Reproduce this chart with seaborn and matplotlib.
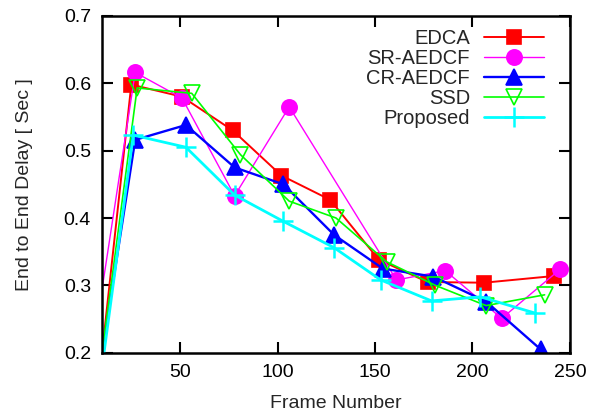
import numpy as np
import pandas as pd
import seaborn as sns
import matplotlib
matplotlib.use("Agg")
import matplotlib.pyplot as plt

series_names = ["EDCA", "SR-AEDCF", "CR-AEDCF", "SSD", "Proposed"]

edca_x = [10, 25, 51, 77, 102, 127, 152, 177, 206, 242]
edca_y = [0.20, 0.598, 0.580, 0.530, 0.463, 0.427, 0.338, 0.305, 0.304, 0.314]

sr_x = [5, 27, 51, 78, 106, 161, 186, 215, 245]
sr_y = [0.20, 0.616, 0.578, 0.433, 0.565, 0.308, 0.322, 0.251, 0.324]

cr_x = [10, 27, 53, 78, 103, 129, 154, 180, 207, 235]
cr_y = [0.20, 0.516, 0.538, 0.475, 0.450, 0.375, 0.325, 0.313, 0.276, 0.205]

ssd_x = [10, 28, 56, 81, 106, 130, 156, 181, 207, 237]
ssd_y = [0.20, 0.593, 0.585, 0.494, 0.425, 0.400, 0.335, 0.300, 0.270, 0.286]

prop_x = [11, 26, 53, 78, 103, 129, 153, 179, 204, 232]
prop_y = [0.20, 0.523, 0.505, 0.434, 0.395, 0.356, 0.308, 0.277, 0.283, 0.259]

xs = [edca_x, sr_x, cr_x, ssd_x, prop_x]
ys = [edca_y, sr_y, cr_y, ssd_y, prop_y]

frames = []
for name, x, y in zip(series_names, xs, ys):
    frames.append(pd.DataFrame({"frame": x, "delay": y, "method": name}))
df = pd.concat(frames, ignore_index=True)

colors = {"EDCA": "#ff0000", "SR-AEDCF": "#ff00ff", "CR-AEDCF": "#0000ff",
          "SSD": "#00ff00", "Proposed": "#00ffff"}
markers = {"EDCA": "s", "SR-AEDCF": "o", "CR-AEDCF": "^", "SSD": "v", "Proposed": "+"}
lws = {"EDCA": 1.4, "SR-AEDCF": 1.0, "CR-AEDCF": 1.7, "SSD": 1.2, "Proposed": 2.0}
msizes = {"EDCA": 10.5, "SR-AEDCF": 11, "CR-AEDCF": 12, "SSD": 12, "Proposed": 14}

sns.set_theme(style="ticks")
plt.rcParams['font.family'] = ['Liberation Sans', 'DejaVu Sans']

fig = plt.figure(figsize=(5.9, 4.17), dpi=100)
ax = fig.add_axes([0.173, 0.154, 0.793, 0.808])

for name in series_names:
    sub = df[df["method"] == name]
    mfc = "none" if name == "SSD" else colors[name]
    sns.lineplot(data=sub, x="frame", y="delay", ax=ax, color=colors[name],
                 marker=markers[name], markersize=msizes[name], lw=lws[name],
                 markerfacecolor=mfc, markeredgecolor=colors[name],
                 markeredgewidth=1.2 if name != "Proposed" else 1.8,
                 markevery=list(range(1, len(sub))),
                 sort=False, estimator=None, label=name)

ax.set_xlim(10, 250)
ax.set_ylim(0.2, 0.7)
ax.set_xticks([50, 100, 150, 200, 250])
ax.set_yticks([0.2, 0.3, 0.4, 0.5, 0.6, 0.7])
ax.set_yticklabels(["0.2", "0.3", "0.4", "0.5", "0.6", "0.7"])
ax.tick_params(direction="in", length=8, width=1.5, top=True, right=True,
               labelsize=14, colors="black", pad=8)
for sp in ax.spines.values():
    sp.set_linewidth(1.8)
    sp.set_color("black")
    sp.set_visible(True)
ax.set_xlabel("Frame Number", fontsize=14, labelpad=10)
ax.set_ylabel("End to End Delay [ Sec ]", fontsize=14, labelpad=22)

leg = ax.legend(loc="upper right", bbox_to_anchor=(0.967, 0.99), frameon=False,
                markerfirst=False, fontsize=14.5, handlelength=3.0,
                handletextpad=0.7, labelspacing=0.05, borderpad=0)

fig.savefig("out.png", dpi=100)
